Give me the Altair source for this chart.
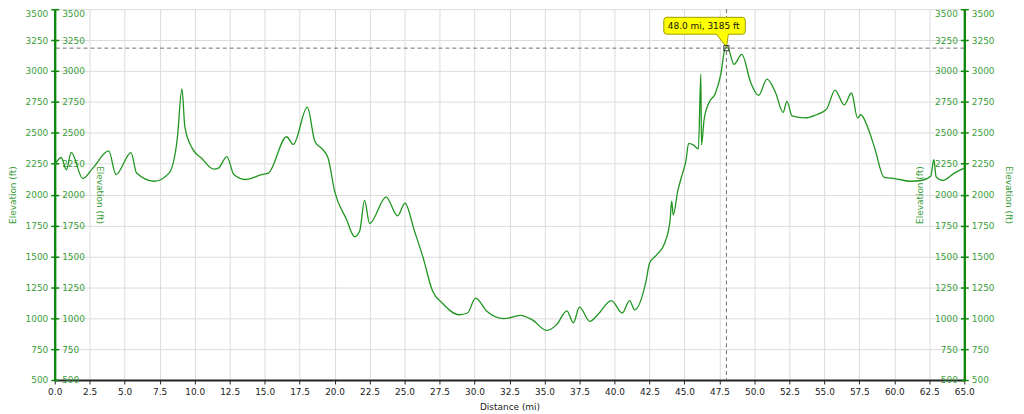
import altair as alt
import pandas as pd

# ---------------- data ----------------
distance_mi = [0.0, 0.47, 0.83, 1.18, 2.0, 2.72, 3.86, 4.38, 5.45, 5.85, 7.1, 8.17, 8.76, 9.09, 9.3,
               9.83, 10.5, 11.37, 11.7, 12.3, 12.8, 13.6, 14.8, 15.27, 16.57, 17.05, 18.05, 18.6,
               19.18, 19.54, 20.0, 20.84, 21.43, 21.8, 22.14, 22.5, 23.68, 24.5, 25.03, 25.7, 26.3,
               27.0, 27.7, 28.9, 29.5, 30.07, 30.9, 32.1, 33.27, 34.1, 35.16, 35.87, 36.6, 37.06,
               37.5, 38.24, 38.8, 39.78, 40.56, 41.08, 41.44, 42.27, 42.5, 43.0, 43.57, 43.97, 44.09,
               44.2, 44.52, 44.87, 45.1, 45.3, 45.63, 46.0, 46.17, 46.22, 46.4, 46.77, 47.19, 47.6,
               47.9, 48.07, 48.54, 49.1, 49.73, 50.3, 50.9, 51.5, 52.05, 52.33, 52.69, 53.63, 54.34,
               55.17, 55.76, 56.42, 56.94, 57.37, 57.6, 58.13, 58.6, 59.27, 60.03, 61.2, 61.9, 62.6,
               62.82, 62.99, 63.46, 64.29, 65.0]
elevation_ft = [2240, 2300, 2200, 2342, 2130, 2214, 2353, 2162, 2340, 2174, 2108, 2174, 2454, 2855, 2548,
                2374, 2294, 2206, 2214, 2308, 2162, 2122, 2162, 2174, 2468, 2406, 2708, 2428,
                2362, 2294, 2028, 1802, 1660, 1708, 1954, 1766, 1980, 1828, 1930, 1708, 1500,
                1220, 1122, 1028, 1042, 1162, 1054, 996, 1022, 988, 902, 948, 1060, 962,
                1090, 974, 1028, 1142, 1042, 1142, 1068, 1308, 1442, 1510, 1602, 1788, 1948,
                1834, 2028, 2174, 2268, 2414, 2402, 2370, 2974, 2402, 2602, 2748, 2814, 2974,
                3180, 3196, 3054, 3134, 2908, 2802, 2934, 2828, 2665, 2754, 2636, 2620, 2642,
                2694, 2846, 2726, 2822, 2620, 2646, 2534, 2374, 2140, 2130, 2108, 2114, 2148,
                2282, 2142, 2114, 2174, 2214]

x_ticks = [0, 2.5, 5, 7.5, 10, 12.5, 15, 17.5, 20, 22.5, 25, 27.5, 30, 32.5, 35, 37.5, 40,
           42.5, 45, 47.5, 50, 52.5, 55, 57.5, 60, 62.5, 65]
y_ticks = [500, 750, 1000, 1250, 1500, 1750, 2000, 2250, 2500, 2750, 3000, 3250, 3500]

marker_mi = [48.0]
marker_ft = [3185]
marker_label = ["48.0 mi, 3185 ft"]

x_title = "Distance (mi)"
y_title = "Elevation (ft)"

# ---------------- style ----------------
W, H = 915, 373
FONT = "DejaVu Sans"
AX_GREEN = "#0a870a"
LBL_GREEN = "#3a9e3a"
LINE_GREEN = "#1f951f"
GRID = "#dcdcdc"

df = pd.DataFrame({"mi": distance_mi, "ft": elevation_ft})
mk = pd.DataFrame({"mi": marker_mi, "ft": marker_ft, "label": marker_label})

xscale = alt.Scale(domain=[0, 65], nice=False, zero=False)
yscale = alt.Scale(domain=[500, 3500], nice=False, zero=False)

top_baseline = {"condition": {"test": "datum.value == 3500", "value": "top"}, "value": "middle"}


def yaxis(orient, offset, title_x, angle, grid=False):
    return alt.Axis(
        orient=orient, offset=offset, values=y_ticks, format="d",
        grid=grid, gridColor=GRID, gridWidth=1,
        domainColor=AX_GREEN, domainWidth=2, tickColor=AX_GREEN, tickSize=4, tickWidth=1.5,
        labelColor=LBL_GREEN, labelFont=FONT, labelFontSize=9, labelPadding=3,
        labelFlush=False, labelOverlap=False, labelBaseline=top_baseline,
        title=y_title, titleColor=LBL_GREEN, titleFont=FONT, titleFontSize=9,
        titleFontWeight="normal", titleX=title_x, titleY=H / 2, titleAngle=angle,
        titleAlign="center", titleBaseline="middle",
    )


xaxis = alt.Axis(
    orient="bottom", values=x_ticks, format=".1f", grid=True, gridColor=GRID, gridWidth=1,
    domainColor="#222222", domainWidth=2, tickColor="#222222", tickSize=4, tickWidth=1,
    labelColor="#222222", labelFont=FONT, labelFontSize=9, labelPadding=4,
    labelFlush=False, labelOverlap=False,
    title=x_title, titleColor="#222222", titleFont=FONT, titleFontSize=9,
    titleFontWeight="normal", titleY=27, titleBaseline="middle",
)

base = alt.Chart(df)

line = base.mark_line(color=LINE_GREEN, strokeWidth=1.3, interpolate="monotone").encode(
    x=alt.X("mi:Q", scale=xscale, axis=xaxis),
    y=alt.Y("ft:Q", scale=yscale, axis=yaxis("left", 0, -42, 270, grid=True)),
)


def ghost(orient, offset, title_x, angle):
    return base.mark_line(opacity=0).encode(
        x=alt.X("mi:Q", scale=xscale, axis=None),
        y=alt.Y("ft:Q", scale=yscale, axis=yaxis(orient, offset, title_x, angle)),
    )


ax2 = ghost("right", -W, 45, 90)
ax3 = ghost("left", -W, -45, 270)
ax4 = ghost("right", 0, 44, 90)

mbase = alt.Chart(mk)
vrule = mbase.mark_rule(color="#707070", strokeDash=[4, 3], strokeWidth=1).encode(
    x=alt.X("mi:Q", scale=xscale, axis=None))
hrule = mbase.mark_rule(color="#707070", strokeDash=[4, 3], strokeWidth=1).encode(
    y=alt.Y("ft:Q", scale=yscale, axis=None))

CALLOUT = ("M -0.60 -0.31 L 0.16 -0.31 Q 0.19 -0.31 0.19 -0.28 L 0.19 -0.17 "
           "Q 0.19 -0.14 0.16 -0.14 L 0.02 -0.14 L 0 -0.01 L -0.10 -0.14 L -0.60 -0.14 "
           "Q -0.63 -0.14 -0.63 -0.17 L -0.63 -0.28 Q -0.63 -0.31 -0.60 -0.31 Z")

bubble = mbase.mark_point(shape=CALLOUT, size=40000, filled=True, fill="#ffff00",
                          stroke="#9a9a00", strokeWidth=1, opacity=1, fillOpacity=1).encode(
    x=alt.X("mi:Q", scale=xscale, axis=None),
    y=alt.Y("ft:Q", scale=yscale, axis=None),
)
square = mbase.mark_point(shape="square", size=28, filled=False, stroke="#3a3a3a",
                          strokeWidth=1, opacity=1).encode(
    x=alt.X("mi:Q", scale=xscale, axis=None),
    y=alt.Y("ft:Q", scale=yscale, axis=None),
)
label = mbase.mark_text(align="left", baseline="middle", dx=-59, dy=-22.5, font=FONT,
                        fontSize=9, color="#111111").encode(
    x=alt.X("mi:Q", scale=xscale, axis=None),
    y=alt.Y("ft:Q", scale=yscale, axis=None),
    text="label:N",
)

chart = alt.layer(line, ax2, ax3, ax4, vrule, hrule, bubble, square, label).resolve_scale(
    y="shared", x="shared"
).resolve_axis(y="independent", x="independent").properties(
    width=W, height=H,
    padding={"left": 47, "top": 0, "right": 52, "bottom": 32},
    autosize=alt.AutoSizeParams(type="none"),
).configure(font=FONT).configure_view(stroke=None)

chart.save("out.html", embed_options={"renderer": "svg", "actions": False})
